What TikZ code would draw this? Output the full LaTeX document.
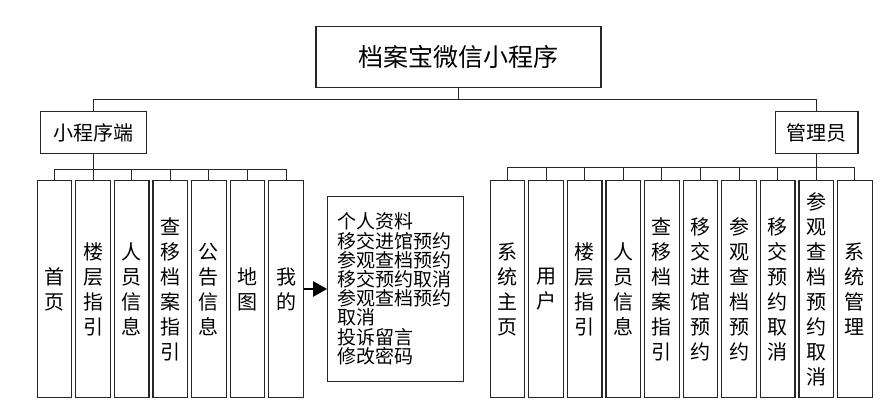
\documentclass[tikz,border=0pt]{standalone}
\usepackage{fontspec}
\newfontfamily\cjk{Noto Sans CJK SC}
\usetikzlibrary{arrows.meta}

\begin{document}
\begin{tikzpicture}[x=1pt, y=-1pt,
      font=\cjk,
      box/.style={draw=black!85, line width=1.2pt, fill=white, inner sep=0pt, align=center},
      col/.style={box, minimum width=34.5pt, minimum height=217.5pt, text width=21pt,
                  font=\cjk\fontsize{20}{25}\selectfont},
      lnk/.style={line width=1pt, draw=black!85},
      arr/.style={-{Triangle[length=14pt, width=15pt]}, line width=2.5pt}]
    \useasboundingbox (0,0) rectangle (891,406);
    \node[box, minimum width=285pt, minimum height=60.6pt, font=\cjk\fontsize{25}{30}\selectfont] (top) at (458.5,57) {档案宝微信小程序};
    \node[box, minimum width=106.4pt, minimum height=42.4pt, font=\cjk\fontsize{20}{24}\selectfont] (mp) at (93.3,132.5) {小程序端};
    \node[box, minimum width=82.3pt, minimum height=42.4pt, font=\cjk\fontsize{20}{24}\selectfont] (gly) at (816.8,132.5) {管理员};
    % mini program side
    \node[col] (l1) at (54.5,289)  {首\\页};
    \node[col] (l2) at (93.1,289)  {楼\\层\\指\\引};
    \node[col] (l3) at (131.7,289) {人\\员\\信\\息};
    \node[col] (l4) at (170.3,289) {查\\移\\档\\案\\指\\引};
    \node[col] (l5) at (208.9,289) {公\\告\\信\\息};
    \node[col] (l6) at (247.5,289) {地\\图};
    \node[col] (l7) at (286.1,289) {我\\的};
    \node[box, minimum width=135.6pt, minimum height=185.7pt, text width=116pt, align=left,
          font=\cjk\fontsize{19}{19.2}\selectfont] (wd) at (395.5,289)
          {个人资料\\移交进馆预约\\参观查档预约\\移交预约取消\\参观查档预约\\取消\\投诉留言\\修改密码};
    % admin side
    \node[col] (r1)  at (507.5,289) {系\\统\\主\\页};
    \node[col] (r2)  at (546.1,289) {用\\户};
    \node[col] (r3)  at (584.7,289) {楼\\层\\指\\引};
    \node[col] (r4)  at (623.3,289) {人\\员\\信\\息};
    \node[col] (r5)  at (661.9,289) {查\\移\\档\\案\\指\\引};
    \node[col] (r6)  at (700.5,289) {移\\交\\进\\馆\\预\\约};
    \node[col] (r7)  at (739.1,289) {参\\观\\查\\档\\预\\约};
    \node[col] (r8)  at (777.7,289) {移\\交\\预\\约\\取\\消};
    \node[col] (r9)  at (816.3,289) {参\\观\\查\\档\\预\\约\\取\\消};
    \node[col] (r10) at (854.9,289) {系\\统\\管\\理};
    \draw[lnk] (top.south) -- ++(0,12) -| (mp.north);
    \draw[lnk] (top.south) -- ++(0,12) -| (gly.north);
    \foreach \i in {1,...,7}
      \draw[lnk] (mp.south) -- ++(0,15.3) -| (l\i.north);
    \foreach \i in {1,...,10}
      \draw[lnk] (gly.south) -- ++(0,13.3) -| (r\i.north);
    \draw[arr] (l7.east) -- (wd.west);
  \end{tikzpicture}
\end{document}
